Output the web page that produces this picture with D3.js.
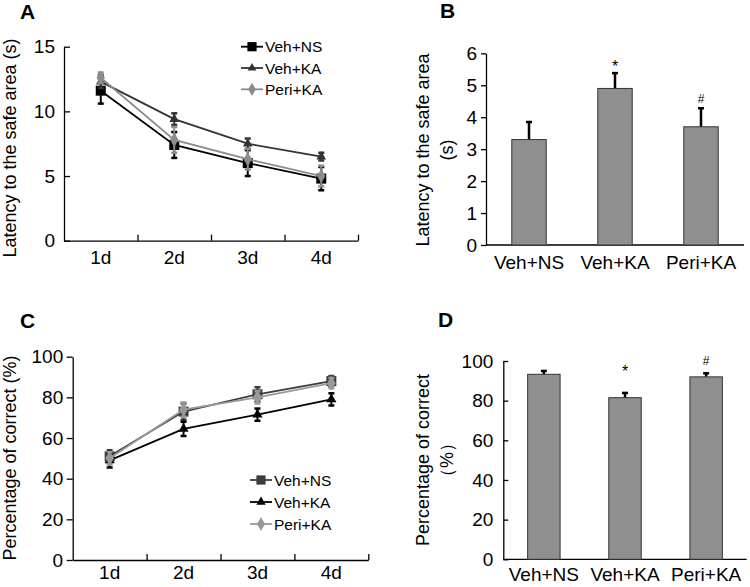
<!DOCTYPE html>
<html>
<head>
<meta charset="utf-8">
<script src="https://cdn.jsdelivr.net/npm/d3@7"></script>
<style>
  body { margin: 0; background: #fff; }
  svg { font-family: "Liberation Sans", Arial, sans-serif; }
  .axis path, .axis line { stroke: #000; stroke-width: 1.3; }
  .axis text { font-size: 19px; fill: #000; }
</style>
</head>
<body>
<svg id="fig" width="750" height="587"></svg>
<script>
// categories
const days = ["1d", "2d", "3d", "4d"];
const groups = ["Veh+NS", "Veh+KA", "Peri+KA"];

// panel A - latency over days (s)
const latencyNS = [11.6, 7.4, 6.0, 4.8];
const latencyNSErr = [1.0, 1.0, 1.0, 0.9];
const latencyKA = [12.3, 9.4, 7.5, 6.5];
const latencyKAErr = [0.5, 0.45, 0.4, 0.3];
const latencyPeri = [12.6, 7.8, 6.3, 5.0];
const latencyPeriErr = [0.4, 1.0, 0.8, 0.8];
const latencyTicks = [0, 5, 10, 15];

// panel B - latency bars (s)
const barLatency = [3.3, 4.9, 3.7];
const barLatencyErr = [0.55, 0.48, 0.58];
const barLatencyTicks = [0, 1, 2, 3, 4, 5, 6];

// panel C - percentage correct over days
const correctNS = [51, 73, 81.5, 88];
const correctNSErr = [3, 4, 3.5, 2.5];
const correctKA = [49, 64.5, 71.5, 79];
const correctKAErr = [3.5, 3.5, 3, 3];
const correctPeri = [50, 74, 80, 87];
const correctPeriErr = [3, 3.5, 3, 2.5];
const correctTicks = [0, 20, 40, 60, 80, 100];

// panel D - percentage correct bars
const barCorrect = [93.3, 81.5, 92];
const barCorrectErr = [1.7, 2.4, 1.8];

// significance marks
const sigMarks = ["", "*", "#"];

const svg = d3.select("#fig");

function panelLabel(txt, x, y) {
    svg.append("text").attr("x", x).attr("y", y)
        .style("font-size", "21px").style("font-weight", "bold").text(txt);
}

function yLabel(lines, cx, cy, gap) {
    lines.forEach((l, i) => {
        svg.append("text")
            .attr("transform", `translate(${cx + i * gap},${cy}) rotate(-90)`)
            .attr("text-anchor", "middle")
            .attr("dominant-baseline", "central")
            .style("font-size", "18px")
            .text(l);
    });
}

function marker(g, shape, x, y, color, size) {
    const sym = { square: d3.symbolSquare, triangle: d3.symbolTriangle, diamond: d3.symbolDiamond }[shape];
    g.append("path")
        .attr("d", d3.symbol().type(sym).size(size)())
        .attr("transform", `translate(${x},${y})`)
        .attr("fill", color);
}

// line chart panel (A and C)
function linePanel(cfg) {
    const x = d3.scaleBand().domain(days).range([cfg.x0, cfg.x1]);
    const xl = d3.scaleLinear().domain([0, days.length]).range([cfg.x0, cfg.x1]);
    const y = d3.scaleLinear().domain([0, cfg.yMax]).range([cfg.yBot, cfg.yTop]);

    // tick marks on x (inward)
    svg.append("g").attr("class", "axis")
        .attr("transform", `translate(0,${cfg.yBot})`)
        .call(d3.axisBottom(xl).tickValues(d3.range(1, days.length + 1))
            .tickSize(-6).tickSizeOuter(0).tickFormat(""));
    // x labels
    const xa = svg.append("g").attr("class", "axis")
        .attr("transform", `translate(0,${cfg.yBot})`)
        .call(d3.axisBottom(x).tickSize(0).tickPadding(cfg.xPad));
    xa.select(".domain").remove();

    svg.append("g").attr("class", "axis")
        .attr("transform", `translate(${cfg.x0},0)`)
        .call(d3.axisLeft(y).tickValues(cfg.ticks).tickSize(cfg.yTick)
            .tickSizeOuter(0).tickPadding(cfg.yPad).tickFormat(d3.format("d")));

    const line = d3.line().x((d, i) => x(days[i]) + x.bandwidth() / 2).y(d => y(d));

    cfg.series.forEach(s => {
        const g = svg.append("g");
        // error bars
        s.vals.forEach((v, i) => {
            const cx = x(days[i]) + x.bandwidth() / 2;
            g.append("line").attr("x1", cx).attr("x2", cx)
                .attr("y1", y(v - s.err[i])).attr("y2", y(v + s.err[i]))
                .attr("stroke", s.color).attr("stroke-width", 2);
            [v - s.err[i], v + s.err[i]].forEach(e => {
                g.append("line").attr("x1", cx - 3).attr("x2", cx + 3)
                    .attr("y1", y(e)).attr("y2", y(e))
                    .attr("stroke", s.color).attr("stroke-width", 2.5);
            });
        });
        g.append("path").datum(s.vals).attr("d", line)
            .attr("fill", "none").attr("stroke", s.color).attr("stroke-width", 1.8);
        s.vals.forEach((v, i) => {
            marker(g, s.shape, x(days[i]) + x.bandwidth() / 2, y(v), s.color, s.size);
        });
    });

    // legend
    cfg.series.forEach((s, i) => {
        const ly = cfg.legY + i * cfg.legGap;
        svg.append("line").attr("x1", cfg.legX).attr("x2", cfg.legX + 22)
            .attr("y1", ly).attr("y2", ly).attr("stroke", s.color).attr("stroke-width", 1.8);
        marker(svg, s.shape, cfg.legX + 11, ly, s.color, s.size * 0.85);
        svg.append("text").attr("x", cfg.legX + 24).attr("y", ly)
            .attr("dominant-baseline", "central").style("font-size", "15.5px")
            .text(groups[i]);
    });
}

// bar chart panel (B and D)
function barPanel(cfg) {
    const x = d3.scaleBand().domain(groups).range([cfg.x0, cfg.x1])
        .paddingInner(0.6).paddingOuter(0.3);
    const y = d3.scaleLinear().domain([0, cfg.yMax]).range([cfg.yBot, cfg.yTop]);

    const xa = svg.append("g").attr("class", "axis")
        .attr("transform", `translate(0,${cfg.yBot})`)
        .call(d3.axisBottom(x).tickSize(0).tickSizeOuter(0).tickPadding(cfg.xPad));
    xa.select(".domain").attr("d", `M${cfg.x0},0H${cfg.x1}`);

    svg.append("g").attr("class", "axis")
        .attr("transform", `translate(${cfg.x0},0)`)
        .call(d3.axisLeft(y).tickValues(cfg.ticks).tickSize(cfg.yTick)
            .tickSizeOuter(0).tickPadding(cfg.yPad).tickFormat(d3.format("d")));

    cfg.vals.forEach((v, i) => {
        const cx = x(groups[i]) + x.bandwidth() / 2;
        const top = y(v + cfg.err[i]);
        svg.append("line").attr("x1", cx).attr("x2", cx)
            .attr("y1", y(v)).attr("y2", top)
            .attr("stroke", "#000").attr("stroke-width", 2.5);
        svg.append("line").attr("x1", cx - 3).attr("x2", cx + 3)
            .attr("y1", top).attr("y2", top)
            .attr("stroke", "#000").attr("stroke-width", 2.5);
        svg.append("rect")
            .attr("x", x(groups[i])).attr("y", y(v))
            .attr("width", x.bandwidth()).attr("height", y(0) - y(v))
            .attr("fill", "#8f8f8f").attr("stroke", "#333").attr("stroke-width", 1);
        if (sigMarks[i]) {
            svg.append("text").attr("x", cx).attr("y", top - cfg.sigGap[i])
                .attr("text-anchor", "middle")
                .style("font-size", sigMarks[i] === "*" ? "16px" : "12px")
                .text(sigMarks[i]);
        }
    });
}

// A
panelLabel("A", 20, 19);
yLabel(["Latency to the safe area (s)"], 10, 148, 0);
linePanel({
    x0: 64, x1: 358, yTop: 46.7, yBot: 240.7, yMax: 15, ticks: latencyTicks,
    yTick: -6, yPad: 9, xPad: 10,
    series: [
        { vals: latencyNS, err: latencyNSErr, color: "#000", shape: "square", size: 100 },
        { vals: latencyKA, err: latencyKAErr, color: "#333", shape: "triangle", size: 40 },
        { vals: latencyPeri, err: latencyPeriErr, color: "#8c8c8c", shape: "diamond", size: 60 }
    ],
    legX: 241, legY: 46.7, legGap: 21.3
});

// B
panelLabel("B", 440, 18);
yLabel(["Latency to the safe area", "(s)"], 423, 150, 24);
barPanel({
    x0: 486, x1: 744, yTop: 53.3, yBot: 245, yMax: 6, ticks: barLatencyTicks,
    yTick: 5, yPad: 4, xPad: 11, vals: barLatency, err: barLatencyErr,
    sigGap: [0, 1, 5]
});

// C
panelLabel("C", 20, 328);
yLabel(["Percentage of correct (%)"], 10, 458, 0);
linePanel({
    x0: 72.7, x1: 368.3, yTop: 356.7, yBot: 560, yMax: 100, ticks: correctTicks,
    yTick: 6, yPad: 3.5, xPad: 6,
    series: [
        { vals: correctNS, err: correctNSErr, color: "#3c3c3c", shape: "square", size: 100 },
        { vals: correctKA, err: correctKAErr, color: "#000", shape: "triangle", size: 45 },
        { vals: correctPeri, err: correctPeriErr, color: "#999", shape: "diamond", size: 65 }
    ],
    legX: 250, legY: 480, legGap: 22
});

// D
panelLabel("D", 438, 327);
yLabel(["Percentage of correct", "（%）"], 422.5, 460, 24);
barPanel({
    x0: 503.3, x1: 746.7, yTop: 361, yBot: 559.3, yMax: 100, ticks: correctTicks,
    yTick: -5, yPad: 10, xPad: 8, vals: barCorrect, err: barCorrectErr,
    sigGap: [0, 16, 8]
});
</script>
</body>
</html>
